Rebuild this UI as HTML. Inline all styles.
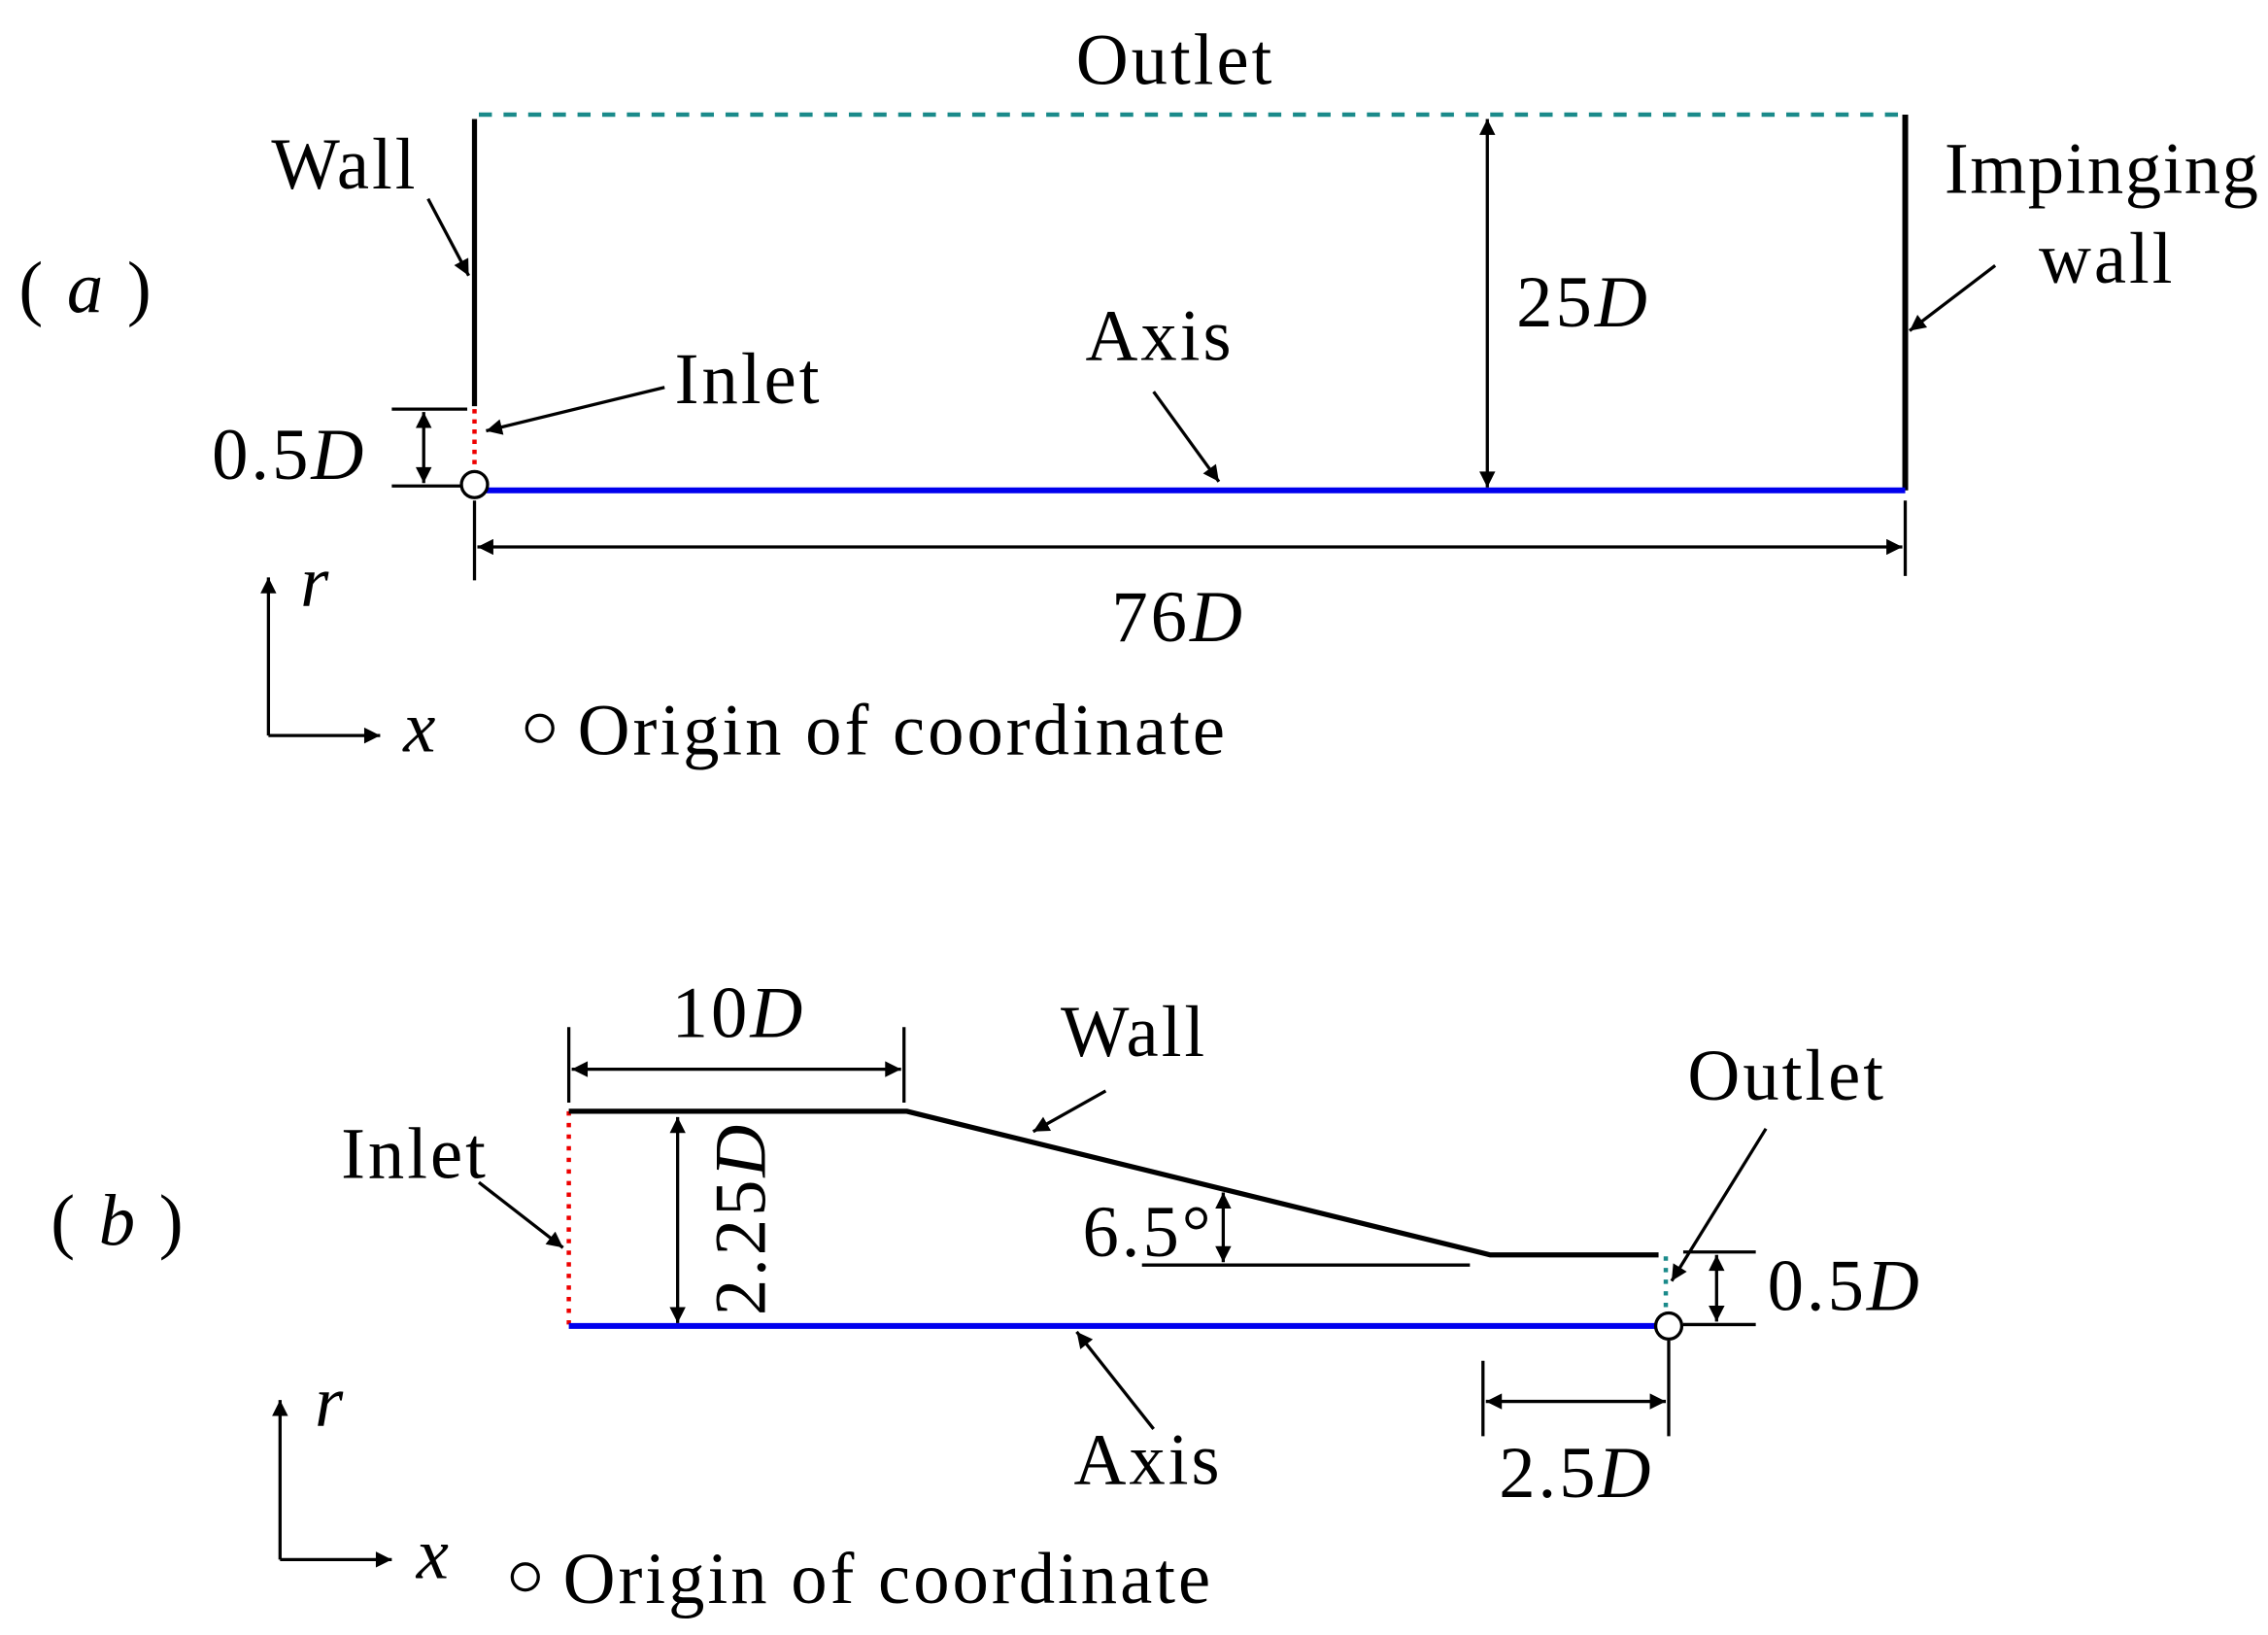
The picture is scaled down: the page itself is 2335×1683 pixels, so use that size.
<!DOCTYPE html>
<html><head><style>html,body{margin:0;padding:0;background:#fff}svg{display:block}</style></head>
<body>
<svg width="2335" height="1683" viewBox="0 0 1563 1127" preserveAspectRatio="none" xmlns="http://www.w3.org/2000/svg" font-family="'Liberation Serif', serif" font-size="50" letter-spacing="2">
<defs>
<marker id="a" viewBox="0 0 10 10" refX="10" refY="5" markerWidth="20" markerHeight="11" markerUnits="userSpaceOnUse" orient="auto-start-reverse"><path d="M0,0L10,5L0,10z" fill="#000"/></marker>
</defs>
<g stroke="#000" stroke-width="2.2" fill="none">
<line x1="330" y1="79" x2="1313" y2="79" stroke="#1a8a8a" stroke-width="3" stroke-dasharray="9,8"/>
<line x1="327" y1="82" x2="327" y2="280" stroke-width="3.5"/>
<line x1="1313" y1="79" x2="1313" y2="338" stroke-width="4"/>
<line x1="333" y1="338" x2="1313" y2="338" stroke="#0000ee" stroke-width="4"/>
<line x1="327" y1="282" x2="327" y2="324" stroke="#ee0000" stroke-width="3" stroke-dasharray="3,4"/>
<circle cx="327" cy="334" r="9" fill="#fff"/>
<line x1="295" y1="137" x2="323" y2="190" marker-end="url(#a)"/>
<line x1="458" y1="267" x2="335" y2="297" marker-end="url(#a)"/>
<line x1="270" y1="282" x2="322" y2="282"/><line x1="270" y1="335" x2="318" y2="335"/>
<line x1="292" y1="284" x2="292" y2="333" marker-start="url(#a)" marker-end="url(#a)"/>
<line x1="1025" y1="82" x2="1025" y2="336" marker-start="url(#a)" marker-end="url(#a)"/>
<line x1="795" y1="270" x2="840" y2="332" marker-end="url(#a)"/>
<line x1="327" y1="345" x2="327" y2="400"/><line x1="1313" y1="345" x2="1313" y2="397"/>
<line x1="329" y1="377" x2="1311" y2="377" marker-start="url(#a)" marker-end="url(#a)"/>
<line x1="1375" y1="183" x2="1316" y2="228" marker-end="url(#a)"/>
<line x1="185" y1="507" x2="185" y2="398" marker-end="url(#a)"/>
<line x1="185" y1="507" x2="262" y2="507" marker-end="url(#a)"/>
<circle cx="372" cy="502" r="9"/>
<line x1="392" y1="766" x2="392" y2="913" stroke="#ee0000" stroke-width="3" stroke-dasharray="3,5"/>
<polyline points="392,766 625,766 1027,865 1143,865" stroke-width="3.5"/>
<line x1="392" y1="914" x2="1150" y2="914" stroke="#0000ee" stroke-width="4"/>
<line x1="1148" y1="866" x2="1148" y2="903" stroke="#1a8a8a" stroke-width="3" stroke-dasharray="3,5"/>
<circle cx="1150" cy="914" r="9" fill="#fff"/>
<line x1="392" y1="708" x2="392" y2="760"/><line x1="623" y1="708" x2="623" y2="760"/>
<line x1="394" y1="737" x2="621" y2="737" marker-start="url(#a)" marker-end="url(#a)"/>
<line x1="467" y1="770" x2="467" y2="912" marker-start="url(#a)" marker-end="url(#a)"/>
<line x1="762" y1="752" x2="712" y2="780" marker-end="url(#a)"/>
<line x1="330" y1="815" x2="388" y2="860" marker-end="url(#a)"/>
<line x1="787" y1="872" x2="1013" y2="872"/>
<line x1="843" y1="822" x2="843" y2="870" marker-start="url(#a)" marker-end="url(#a)"/>
<line x1="1217" y1="778" x2="1152" y2="883" marker-end="url(#a)"/>
<line x1="1160" y1="863" x2="1210" y2="863"/><line x1="1160" y1="913" x2="1210" y2="913"/>
<line x1="1183" y1="865" x2="1183" y2="911" marker-start="url(#a)" marker-end="url(#a)"/>
<line x1="1022" y1="938" x2="1022" y2="990"/><line x1="1150" y1="924" x2="1150" y2="990"/>
<line x1="1024" y1="966" x2="1148" y2="966" marker-start="url(#a)" marker-end="url(#a)"/>
<line x1="795" y1="985" x2="742" y2="918" marker-end="url(#a)"/>
<line x1="193" y1="1075" x2="193" y2="965" marker-end="url(#a)"/>
<line x1="193" y1="1075" x2="270" y2="1075" marker-end="url(#a)"/>
<circle cx="362" cy="1087" r="9"/>
</g>
<g fill="#000">
<text x="810" y="58" text-anchor="middle">Outlet</text>
<text x="187" y="130">Wall</text>
<text x="13" y="215">( <tspan font-style="italic">a</tspan> )</text>
<text x="465" y="278">Inlet</text>
<text x="146" y="330">0.5<tspan font-style="italic">D</tspan></text>
<text x="1045" y="225">25<tspan font-style="italic">D</tspan></text>
<text x="748" y="248">Axis</text>
<text x="766" y="442">76<tspan font-style="italic">D</tspan></text>
<text x="1340" y="133" letter-spacing="1">Impinging</text>
<text x="1405" y="195">wall</text>
<text x="207" y="418" font-style="italic">r</text>
<text x="278" y="518" font-style="italic">x</text>
<text x="398" y="520">Origin of coordinate</text>
<text x="35" y="858">( <tspan font-style="italic">b</tspan> )</text>
<text x="463" y="715">10<tspan font-style="italic">D</tspan></text>
<text transform="translate(527,840) rotate(-90)" text-anchor="middle">2.25<tspan font-style="italic">D</tspan></text>
<text x="731" y="728">Wall</text>
<text x="235" y="812">Inlet</text>
<text x="746" y="866">6.5°</text>
<text x="1163" y="758">Outlet</text>
<text x="1218" y="903">0.5<tspan font-style="italic">D</tspan></text>
<text x="1033" y="1032">2.5<tspan font-style="italic">D</tspan></text>
<text x="740" y="1023">Axis</text>
<text x="217" y="983" font-style="italic">r</text>
<text x="287" y="1088" font-style="italic">x</text>
<text x="388" y="1105">Origin of coordinate</text>
</g>
</svg>
</body></html>
